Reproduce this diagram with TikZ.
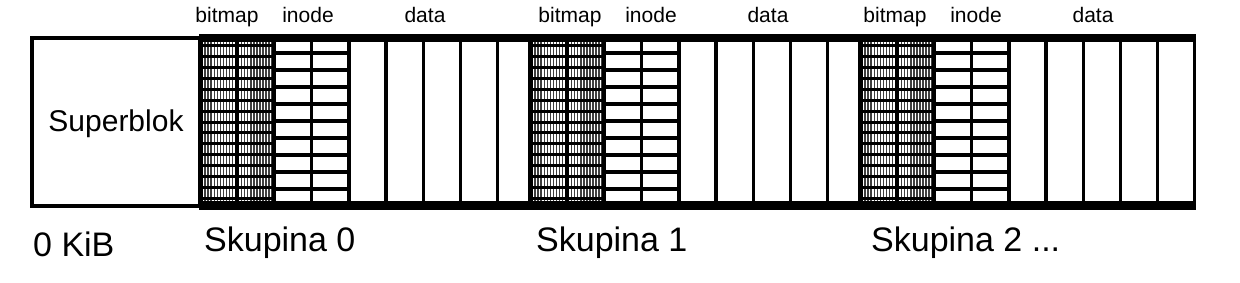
\documentclass[tikz,border=0pt]{standalone}
\usepackage{fontspec}
\setmainfont{Liberation Sans}
\usetikzlibrary{calc}

\newcommand{\colw}{37.2}

\begin{document}
\begin{tikzpicture}[x=1pt,y=-1pt,
  lbl/.style={inner sep=0pt,anchor=base,font=\fontsize{21}{25}\selectfont},
  big/.style={inner sep=0pt,anchor=base west,font=\fontsize{34}{40}\selectfont},
  hatch/.style={line width=1.4pt,black!75},
  bmrow/.style={line width=3pt,black},
  inrow/.style={line width=3.6pt,black}]
\useasboundingbox (0,0) rectangle (1240,283);

\draw[line width=3.4pt] (32,38) rectangle (200,206);
\node[inner sep=0pt,anchor=base,font=\fontsize{30}{36}\selectfont] (superblok) at (116,131.7) {Superblok};
\node[big] (kib) at (33,256.7) {0 KiB};

\foreach \g/\n/\bx/\ix/\dx in {200/0/227/308/425,530/1/570/651/768,860/2/895/976/1093}{
  \foreach \x in {0,1,...,23}
    \draw[hatch] ({\g+2+\x*3.05},42) -- ++(0,160);
  \foreach \k in {0,1,...,14}
    \draw[bmrow] (\g,45.5+\k*10.93) -- ++(2*\colw,0);
  \foreach \k in {0,1,...,8}
    \draw[inrow] ({\g+2*\colw},53.3+\k*17) -- ++(2*\colw,0);
  \foreach \i/\lw in {0/5,1/4,2/4,3/3.2,4/3.8,5/4.2,6/3,7/3,8/3}
    \draw[line width=\lw pt] ({\g+\i*\colw},42) -- ({\g+\i*\colw},202);
  \node[lbl] (bitmap\n) at (\bx,23) {bitmap};
  \node[lbl] (inode\n) at (\ix,23) {inode};
  \node[lbl] (data\n) at (\dx,23) {data};
}
\draw[line width=3pt] ({860+9*\colw},42) -- ({860+9*\colw},202);

\node[big] (skupina0) at (204,252) {Skupina 0};
\node[big] (skupina1) at (536,252) {Skupina 1};
\node[big] (skupina2) at (871,252) {Skupina 2 ...};

\fill (199,34) rectangle (1196,42.5);
\fill (199,201.5) rectangle (1196,210.5);
\end{tikzpicture}
\end{document}
